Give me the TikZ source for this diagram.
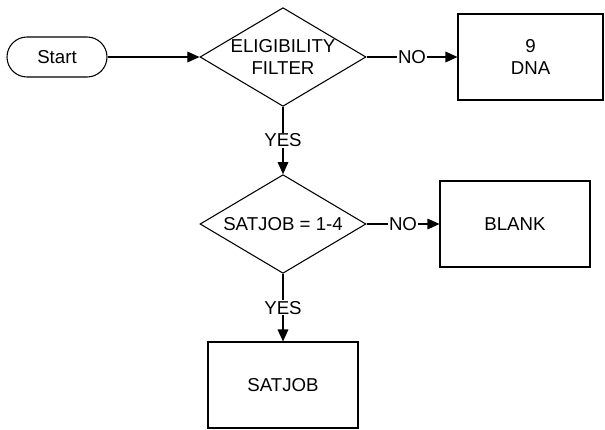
\documentclass[tikz,border=0pt]{standalone}
\usepackage{fontspec}
\setmainfont{Liberation Sans}
\usetikzlibrary{shapes.geometric,arrows.meta}

\tikzset{
	box/.style={draw, rectangle, line width=0.8pt, minimum width=112.5pt, minimum height=64.5pt, align=center},
	decision/.style={draw, diamond, line width=0.8pt, minimum width=124.5pt, minimum height=74pt, inner sep=0pt},
	startbox/.style={draw, rectangle, rounded corners=15pt, line width=0.8pt, minimum width=75pt, minimum height=30pt},
	flow/.style={-{Triangle[length=9pt,width=8pt]}, line width=0.8pt},
	answer/.style={fill=white, inner sep=0.5pt}
}

\begin{document}
\begin{tikzpicture}[x=0.75pt,y=-0.75pt,font=\fontsize{14}{16}\selectfont]
	
	\useasboundingbox (0,0) rectangle (605,429);
	
	% Draw nodes
	\node[startbox] (Start) at (57,57) {Start};
	\node[decision, label={[align=center]center:ELIGIBILITY\\FILTER}] (Elig) at (283,57) {};
	\node[box, minimum width=108.75pt] (DNA) at (530.5,57) {9\\DNA};
	\node[decision] (Sat) at (283,224) {};
	\node (SatText) at (Sat) {SATJOB = 1-4};
	\node[box] (Blank) at (515,224) {BLANK};
	\node[box] (SatJob) at (283,385) {SATJOB};
	
	% Draw arcs
	\draw[flow] (Start) to (Elig);
	\draw[flow] (Elig.east) to node[midway,answer] {NO} (DNA);
	\draw[flow] (Elig.south) to node[midway,answer] {YES} (Sat.north);
	\draw[flow] (Sat.east) to node[midway,answer] {NO} (Blank);
	\draw[flow] (Sat.south) to node[midway,answer] {YES} (SatJob);
	
\end{tikzpicture}
\end{document}
